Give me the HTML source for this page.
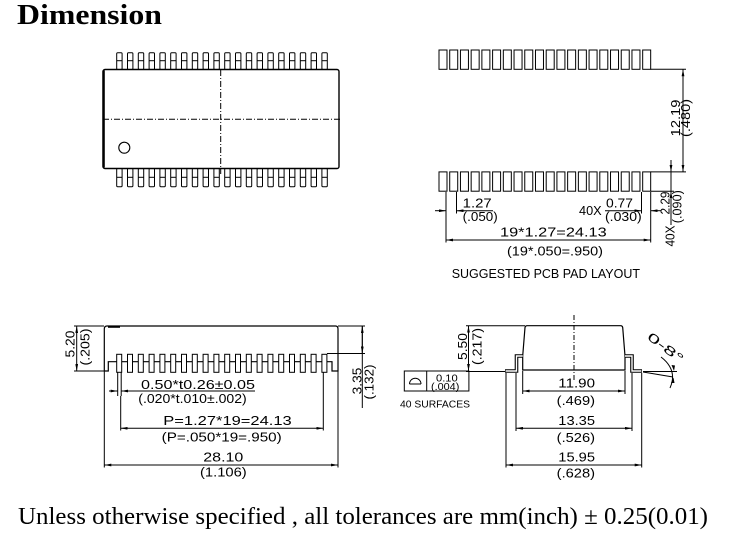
<!DOCTYPE html>
<html>
<head>
<meta charset="utf-8">
<style>
html,body{margin:0;padding:0;background:#fff;width:732px;height:534px;overflow:hidden}
svg{display:block}
.c{font-family:"Liberation Sans",sans-serif;font-size:12.5px;fill:#000}
.s{font-family:"Liberation Sans",sans-serif;font-size:10px;fill:#000}
</style>
</head>
<body>
<svg width="732" height="534" viewBox="0 0 732 534" xmlns="http://www.w3.org/2000/svg">
<defs>
<marker id="a" viewBox="0 0 10 4" refX="10" refY="2" markerWidth="7" markerHeight="2.8" markerUnits="userSpaceOnUse" orient="auto-start-reverse"><path d="M0,0 L10,2 L0,4 z" fill="#000"/></marker>
<g id="pt"><rect x="0" y="0" width="5.4" height="16.8" rx="1" fill="#fff" stroke="#000" stroke-width="1"/><line x1="0" y1="8" x2="5.4" y2="8" stroke="#000" stroke-width="1"/></g>
<g id="pb"><rect x="0" y="0" width="5.4" height="18.2" rx="1" fill="#fff" stroke="#000" stroke-width="1"/><line x1="0" y1="8.8" x2="5.4" y2="8.8" stroke="#000" stroke-width="1"/></g>
<rect id="pd" x="0" y="0" width="8" height="19.3" fill="none" stroke="#000" stroke-width="1"/>
<rect id="ps" x="0" y="0" width="5" height="18" fill="#fff" stroke="#000" stroke-width="1"/>
</defs>

<!-- Title -->
<text x="17" y="24" font-family="'Liberation Serif',serif" font-weight="bold" font-size="28" textLength="145" lengthAdjust="spacingAndGlyphs">Dimension</text>

<!-- ============ TOP-LEFT PACKAGE ============ -->
<g transform="translate(116.7,52.7)">
<use href="#pt" x="0"/><use href="#pt" x="10.8"/><use href="#pt" x="21.6"/><use href="#pt" x="32.4"/><use href="#pt" x="43.2"/><use href="#pt" x="54"/><use href="#pt" x="64.8"/><use href="#pt" x="75.6"/><use href="#pt" x="86.4"/><use href="#pt" x="97.2"/><use href="#pt" x="108"/><use href="#pt" x="118.8"/><use href="#pt" x="129.6"/><use href="#pt" x="140.4"/><use href="#pt" x="151.2"/><use href="#pt" x="162"/><use href="#pt" x="172.8"/><use href="#pt" x="183.6"/><use href="#pt" x="194.4"/><use href="#pt" x="205.2"/>
</g>
<g transform="translate(116.7,168.5)">
<use href="#pb" x="0"/><use href="#pb" x="10.8"/><use href="#pb" x="21.6"/><use href="#pb" x="32.4"/><use href="#pb" x="43.2"/><use href="#pb" x="54"/><use href="#pb" x="64.8"/><use href="#pb" x="75.6"/><use href="#pb" x="86.4"/><use href="#pb" x="97.2"/><use href="#pb" x="108"/><use href="#pb" x="118.8"/><use href="#pb" x="129.6"/><use href="#pb" x="140.4"/><use href="#pb" x="151.2"/><use href="#pb" x="162"/><use href="#pb" x="172.8"/><use href="#pb" x="183.6"/><use href="#pb" x="194.4"/><use href="#pb" x="205.2"/>
</g>
<rect x="103" y="69.5" width="236" height="99" rx="2" fill="#fff" stroke="#000" stroke-width="1.4"/>
<line x1="103.6" y1="70.5" x2="103.6" y2="167.5" stroke="#000" stroke-width="2.4"/>
<g stroke="#000" stroke-width="1" stroke-dasharray="6,2,1,2" fill="none">
<line x1="220.7" y1="70" x2="220.7" y2="174"/>
<line x1="103" y1="119.3" x2="342" y2="119.3"/>
</g>
<circle cx="124.3" cy="147.7" r="5.5" fill="none" stroke="#000" stroke-width="1.1"/>

<!-- ============ TOP-RIGHT PAD LAYOUT ============ -->
<g transform="translate(439,50)">
<use href="#pd" x="0"/><use href="#pd" x="10.72"/><use href="#pd" x="21.44"/><use href="#pd" x="32.16"/><use href="#pd" x="42.88"/><use href="#pd" x="53.6"/><use href="#pd" x="64.32"/><use href="#pd" x="75.04"/><use href="#pd" x="85.76"/><use href="#pd" x="96.48"/><use href="#pd" x="107.2"/><use href="#pd" x="117.92"/><use href="#pd" x="128.64"/><use href="#pd" x="139.36"/><use href="#pd" x="150.08"/><use href="#pd" x="160.8"/><use href="#pd" x="171.52"/><use href="#pd" x="182.24"/><use href="#pd" x="192.96"/><use href="#pd" x="203.68"/>
</g>
<g transform="translate(439,171.9)">
<use href="#pd" x="0"/><use href="#pd" x="10.72"/><use href="#pd" x="21.44"/><use href="#pd" x="32.16"/><use href="#pd" x="42.88"/><use href="#pd" x="53.6"/><use href="#pd" x="64.32"/><use href="#pd" x="75.04"/><use href="#pd" x="85.76"/><use href="#pd" x="96.48"/><use href="#pd" x="107.2"/><use href="#pd" x="117.92"/><use href="#pd" x="128.64"/><use href="#pd" x="139.36"/><use href="#pd" x="150.08"/><use href="#pd" x="160.8"/><use href="#pd" x="171.52"/><use href="#pd" x="182.24"/><use href="#pd" x="192.96"/><use href="#pd" x="203.68"/>
</g>
<g stroke="#000" stroke-width="1" fill="none">
<!-- 12.19 -->
<line x1="650.7" y1="69.3" x2="686" y2="69.3"/>
<line x1="650.7" y1="171.9" x2="686" y2="171.9"/>
<line x1="683" y1="69.3" x2="683" y2="171.9" marker-start="url(#a)" marker-end="url(#a)"/>
<!-- 2.29 -->
<line x1="650.7" y1="191.2" x2="674" y2="191.2"/>
<line x1="671" y1="160" x2="671" y2="225"/>
<line x1="671" y1="160" x2="671" y2="171.9" marker-end="url(#a)"/>
<line x1="671" y1="205" x2="671" y2="191.2" marker-end="url(#a)"/>
<!-- 1.27 -->
<line x1="446" y1="192" x2="446" y2="242.5"/>
<line x1="456.5" y1="192" x2="456.5" y2="213.5"/>
<line x1="435" y1="210.7" x2="446" y2="210.7" marker-end="url(#a)"/>
<line x1="493" y1="210.7" x2="456.5" y2="210.7" marker-end="url(#a)"/>
<!-- 0.77 -->
<line x1="641.5" y1="192" x2="641.5" y2="213.5"/>
<line x1="650.7" y1="192" x2="650.7" y2="242.5"/>
<line x1="605" y1="210.7" x2="641.5" y2="210.7" marker-end="url(#a)"/>
<line x1="661" y1="210.7" x2="650.7" y2="210.7" marker-end="url(#a)"/>
<!-- 24.13 -->
<line x1="446" y1="240" x2="650.7" y2="240" marker-start="url(#a)" marker-end="url(#a)"/>
</g>
<text class="c" transform="translate(680,118) rotate(-90)" text-anchor="middle" textLength="36.7" lengthAdjust="spacingAndGlyphs">12.19</text>
<text class="c" transform="translate(690,118) rotate(-90)" text-anchor="middle" textLength="38" lengthAdjust="spacingAndGlyphs">(.480)</text>
<text class="c" transform="translate(669.3,203) rotate(-90)" text-anchor="middle" textLength="23" lengthAdjust="spacingAndGlyphs">2.29</text>
<text class="c" transform="translate(681.5,206.7) rotate(-90)" text-anchor="middle" textLength="33" lengthAdjust="spacingAndGlyphs">(.090)</text>
<text class="c" transform="translate(674.5,236) rotate(-90)" text-anchor="middle" textLength="21" lengthAdjust="spacingAndGlyphs">40X</text>
<text class="c" x="462.7" y="207.5" textLength="29" lengthAdjust="spacingAndGlyphs">1.27</text>
<text class="c" x="462.7" y="221" textLength="35" lengthAdjust="spacingAndGlyphs">(.050)</text>
<text class="c" x="579" y="215" textLength="22.7" lengthAdjust="spacingAndGlyphs">40X</text>
<text class="c" x="606" y="207.5" textLength="27" lengthAdjust="spacingAndGlyphs">0.77</text>
<text class="c" x="605" y="221" textLength="36.7" lengthAdjust="spacingAndGlyphs">(.030)</text>
<text class="c" x="500" y="236.5" textLength="106.7" lengthAdjust="spacingAndGlyphs">19*1.27=24.13</text>
<text class="c" x="507" y="255.5" textLength="96" lengthAdjust="spacingAndGlyphs">(19*.050=.950)</text>
<text class="c" x="451.7" y="278" textLength="188.3" lengthAdjust="spacingAndGlyphs">SUGGESTED PCB PAD LAYOUT</text>

<!-- ============ BOTTOM-LEFT SIDE VIEW ============ -->
<path d="M104.3,371 L104.3,329 Q104.3,326 107,326 L335.5,326 Q338,326 338,329 L338,371 L332,371 L332,361.7 L108.3,361.7 L108.3,371 Z" fill="none" stroke="#000" stroke-width="1.2"/>
<line x1="108" y1="326.8" x2="120" y2="326.8" stroke="#000" stroke-width="2"/>
<g transform="translate(116.7,354.3)">
<use href="#ps" x="0"/><use href="#ps" x="10.8"/><use href="#ps" x="21.6"/><use href="#ps" x="32.4"/><use href="#ps" x="43.2"/><use href="#ps" x="54"/><use href="#ps" x="64.8"/><use href="#ps" x="75.6"/><use href="#ps" x="86.4"/><use href="#ps" x="97.2"/><use href="#ps" x="108"/><use href="#ps" x="118.8"/><use href="#ps" x="129.6"/><use href="#ps" x="140.4"/><use href="#ps" x="151.2"/><use href="#ps" x="162"/><use href="#ps" x="172.8"/><use href="#ps" x="183.6"/><use href="#ps" x="194.4"/><use href="#ps" x="205.2"/>
</g>
<g stroke="#000" stroke-width="1" fill="none">
<!-- 5.20 -->
<line x1="74" y1="326" x2="104" y2="326"/>
<line x1="74" y1="371" x2="104" y2="371"/>
<line x1="76.7" y1="326" x2="76.7" y2="371" marker-start="url(#a)" marker-end="url(#a)"/>
<!-- 3.35 -->
<line x1="338" y1="326" x2="365" y2="326"/>
<line x1="327" y1="353.5" x2="365" y2="353.5"/>
<line x1="362.3" y1="326" x2="362.3" y2="408"/>
<line x1="362.3" y1="340" x2="362.3" y2="326" marker-end="url(#a)"/>
<line x1="362.3" y1="340" x2="362.3" y2="353.5" marker-end="url(#a)"/>
<!-- 0.50 -->
<line x1="117.7" y1="372.3" x2="117.7" y2="396"/>
<line x1="121.2" y1="372.3" x2="121.2" y2="396"/>
<line x1="109" y1="391" x2="117.7" y2="391" marker-end="url(#a)"/>
<line x1="255" y1="391" x2="121.2" y2="391" marker-end="url(#a)"/>
<!-- P -->
<line x1="120.7" y1="396" x2="120.7" y2="430.5"/>
<line x1="323.3" y1="372.3" x2="323.3" y2="430.5"/>
<line x1="120.7" y1="428.3" x2="323.3" y2="428.3" marker-start="url(#a)" marker-end="url(#a)"/>
<!-- 28.10 -->
<line x1="104.3" y1="371" x2="104.3" y2="467.5"/>
<line x1="338" y1="371" x2="338" y2="467.5"/>
<line x1="104.3" y1="465" x2="338" y2="465" marker-start="url(#a)" marker-end="url(#a)"/>
</g>
<text class="c" transform="translate(74.3,344) rotate(-90)" text-anchor="middle" textLength="27" lengthAdjust="spacingAndGlyphs">5.20</text>
<text class="c" transform="translate(89.5,347) rotate(-90)" text-anchor="middle" textLength="37" lengthAdjust="spacingAndGlyphs">(.205)</text>
<text class="c" transform="translate(361.5,381) rotate(-90)" text-anchor="middle" textLength="26.7" lengthAdjust="spacingAndGlyphs">3.35</text>
<text class="c" transform="translate(373.5,382) rotate(-90)" text-anchor="middle" textLength="35" lengthAdjust="spacingAndGlyphs">(.132)</text>
<text class="c" x="141" y="389" textLength="114" lengthAdjust="spacingAndGlyphs">0.50*t0.26±0.05</text>
<text class="c" x="138.3" y="403" textLength="108.4" lengthAdjust="spacingAndGlyphs">(.020*t.010±.002)</text>
<text class="c" x="163.3" y="425" textLength="128.4" lengthAdjust="spacingAndGlyphs">P=1.27*19=24.13</text>
<text class="c" x="161.7" y="441.5" textLength="120" lengthAdjust="spacingAndGlyphs">(P=.050*19=.950)</text>
<text class="c" x="203.3" y="461.5" textLength="40" lengthAdjust="spacingAndGlyphs">28.10</text>
<text class="c" x="200" y="476.5" textLength="46.7" lengthAdjust="spacingAndGlyphs">(1.106)</text>

<!-- ============ BOTTOM-RIGHT END VIEW ============ -->
<path d="M522.7,370 L522.7,356 L525,327.5 Q525.3,325.7 527,325.7 L620.7,325.7 Q622.4,325.7 622.7,327.5 L625,356 L625,370 Z" fill="#fff" stroke="#000" stroke-width="1.2"/>
<g fill="none" stroke-linejoin="miter">
<path d="M522.7,356 L516.5,356 L516.5,371 L505,371" stroke="#000" stroke-width="3.6"/>
<path d="M522.7,356 L516.5,356 L516.5,371 L505.6,371" stroke="#fff" stroke-width="1.4"/>
<path d="M625,356 L632,356 L632,371 L642,371" stroke="#000" stroke-width="3.6"/>
<path d="M625,356 L632,356 L632,371 L641.4,371" stroke="#fff" stroke-width="1.4"/>
</g>
<line x1="574" y1="315" x2="574" y2="380" stroke="#000" stroke-width="1" stroke-dasharray="5,2,1,2"/>
<g stroke="#000" stroke-width="1" fill="none">
<!-- 5.50 -->
<line x1="466" y1="325.7" x2="525" y2="325.7"/>
<line x1="466" y1="371.5" x2="505" y2="371.5"/>
<line x1="468.5" y1="325.7" x2="468.5" y2="371" marker-start="url(#a)" marker-end="url(#a)"/>
<!-- flatness box -->
<rect x="404.3" y="371" width="64.6" height="20"/>
<line x1="426.7" y1="371" x2="426.7" y2="391"/>
<path d="M409.5,384 L421,384 M409.5,384 A5.75,5.75 0 0 1 421,384"/>
<!-- 11.90 -->
<line x1="522.7" y1="371" x2="522.7" y2="394"/>
<line x1="625" y1="371" x2="625" y2="394"/>
<line x1="522.7" y1="391" x2="625" y2="391" marker-start="url(#a)" marker-end="url(#a)"/>
<!-- 13.35 -->
<line x1="516" y1="373" x2="516" y2="431"/>
<line x1="632" y1="373" x2="632" y2="431"/>
<line x1="516" y1="428.3" x2="632" y2="428.3" marker-start="url(#a)" marker-end="url(#a)"/>
<!-- 15.95 -->
<line x1="506" y1="373" x2="506" y2="467.5"/>
<line x1="641.7" y1="373" x2="641.7" y2="467.5"/>
<line x1="506" y1="465" x2="641.7" y2="465" marker-start="url(#a)" marker-end="url(#a)"/>
<!-- angle -->
<line x1="643" y1="371.5" x2="677" y2="371.5"/>
<line x1="643" y1="372" x2="673" y2="377"/>
<path d="M661,357 Q678,370 670,388"/>
</g>
<path d="M671.5,365 L675,365.5 L674,371 Z" fill="#000"/>
<path d="M671,383 L674.5,383 L673.5,377.5 Z" fill="#000"/>
<text class="c" transform="translate(663,351) rotate(37)" text-anchor="middle" font-size="14" textLength="42" lengthAdjust="spacingAndGlyphs">0-8°</text>
<text class="c" transform="translate(467,346.5) rotate(-90)" text-anchor="middle" textLength="27" lengthAdjust="spacingAndGlyphs">5.50</text>
<text class="c" transform="translate(481.5,346.5) rotate(-90)" text-anchor="middle" textLength="37" lengthAdjust="spacingAndGlyphs">(.217)</text>
<text class="s" x="436" y="381.5" textLength="21.7" lengthAdjust="spacingAndGlyphs">0.10</text>
<text class="s" x="431" y="389.8" textLength="28.3" lengthAdjust="spacingAndGlyphs">(.004)</text>
<text class="s" x="400" y="407.5" textLength="70" lengthAdjust="spacingAndGlyphs">40 SURFACES</text>
<text class="c" x="558.3" y="387.5" textLength="36.7" lengthAdjust="spacingAndGlyphs">11.90</text>
<text class="c" x="556.7" y="405" textLength="38.3" lengthAdjust="spacingAndGlyphs">(.469)</text>
<text class="c" x="558.3" y="425" textLength="36.7" lengthAdjust="spacingAndGlyphs">13.35</text>
<text class="c" x="556.7" y="442" textLength="38.3" lengthAdjust="spacingAndGlyphs">(.526)</text>
<text class="c" x="558.3" y="461.5" textLength="36.7" lengthAdjust="spacingAndGlyphs">15.95</text>
<text class="c" x="556.7" y="477.5" textLength="38.3" lengthAdjust="spacingAndGlyphs">(.628)</text>

<!-- Footer -->
<text x="18" y="524" font-family="'Liberation Serif',serif" font-size="24" textLength="690" lengthAdjust="spacingAndGlyphs">Unless otherwise specified , all tolerances are mm(inch) ± 0.25(0.01)</text>
</svg>
</body>
</html>
